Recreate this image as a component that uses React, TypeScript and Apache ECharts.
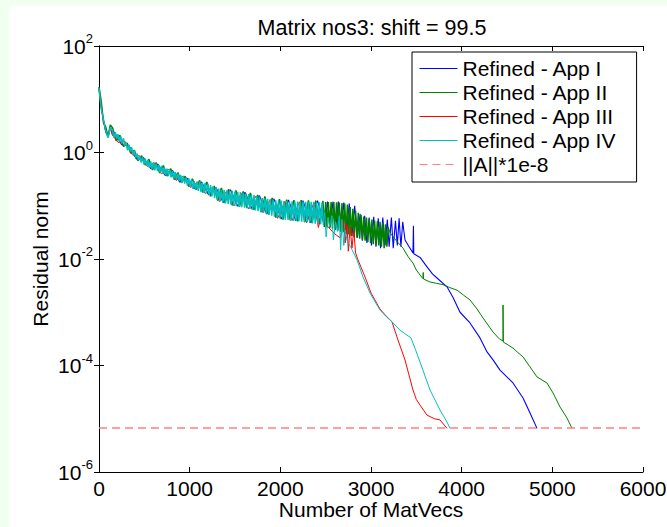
import { useEffect, useRef } from 'react';
import * as echarts from 'echarts';

const FONT = '"Liberation Sans", Arial, Helvetica, sans-serif';

// Opening iterations (steep initial drop)
const cyanStart: [number, number][] = [
  [0, 16], [25, 6.5], [50, 4.2], [75, 2.5], [100, 1.9], [125, 3.0],
];

// App IV residuals sampled every 15 MatVecs from 150 to 2475 (strongly oscillating phase)
const cyanDenseStart = 150;
const cyanDenseStep = 15;
const cyanDense = [
  2.5, 1.9, 2.4, 1.8, 2.2, 1.6, 2.0, 1.5, 1.85, 1.35,
  1.5, 1.1, 1.4, 1.05, 1.25, 0.9, 1.1, 0.8, 0.95, 0.72,
  0.86, 0.65, 0.82, 0.6, 0.77, 0.56, 0.72, 0.52, 0.68, 0.49,
  0.65, 0.46, 0.62, 0.45, 0.58, 0.42, 0.56, 0.4, 0.53, 0.37,
  0.5, 0.36, 0.48, 0.34, 0.45, 0.32, 0.43, 0.31, 0.4, 0.29,
  0.38, 0.27, 0.36, 0.26, 0.34, 0.24, 0.33, 0.225, 0.31, 0.21,
  0.29, 0.2, 0.285, 0.19, 0.28, 0.18, 0.275, 0.175, 0.27, 0.17,
  0.26, 0.16, 0.245, 0.15, 0.235, 0.14, 0.22, 0.13, 0.21, 0.12,
  0.2, 0.115, 0.198, 0.112, 0.195, 0.108, 0.193, 0.105, 0.19, 0.1,
  0.185, 0.098, 0.183, 0.096, 0.18, 0.094, 0.175, 0.092, 0.172, 0.09,
  0.165, 0.087, 0.162, 0.085, 0.158, 0.082, 0.152, 0.079, 0.148, 0.076,
  0.14, 0.074, 0.138, 0.071, 0.135, 0.068, 0.133, 0.065, 0.13, 0.062,
  0.127, 0.06, 0.126, 0.058, 0.125, 0.057, 0.123, 0.055, 0.122, 0.054,
  0.121, 0.053, 0.121, 0.052, 0.12, 0.052, 0.12, 0.051, 0.12, 0.05,
  0.12, 0.049, 0.119, 0.049, 0.119, 0.048, 0.118, 0.047, 0.118, 0.046,
  0.117, 0.046, 0.116, 0.045, 0.115, 0.044,
];

const cyanTail: [number, number][] = [
  [2490, 0.075], [2505, 0.026], [2525, 0.06], [2545, 0.04], [2570, 0.065], [2585, 0.023],
  [2610, 0.05], [2630, 0.033], [2650, 0.065], [2665, 0.0147], [2680, 0.055], [2700, 0.018],
  [2715, 0.035], [2735, 0.0227], [2790, 0.015], [2846, 0.0096], [2912, 0.0046], [2989, 0.0023],
  [3099, 1.1e-3], [3170, 8.2e-4], [3232, 6.6e-4], [3320, 4.6e-4], [3441, 3.3e-4], [3490, 2.0e-4],
  [3541, 1.16e-4], [3651, 3.47e-5], [3761, 1.46e-5], [3838, 8.7e-6], [3872, 6.6e-6],
];

// App II residuals: early phase on a 40-MatVec grid
const greenBandX = [
  0, 25, 50, 75, 100, 125, 150, 190, 230, 270, 310, 350, 390, 430, 470, 510, 550, 590, 630, 670,
  710, 750, 790, 830, 870, 910, 950, 990, 1030, 1070, 1110, 1150, 1190, 1230, 1270, 1310, 1350,
  1390, 1430, 1470, 1510, 1550, 1590, 1630, 1670, 1710, 1750, 1790, 1830, 1870, 1910, 1950, 1990,
  2030, 2070, 2110, 2150, 2190, 2230, 2270, 2310, 2350, 2390, 2430, 2470,
];
const greenBand = [
  17, 9, 3.6, 3.0, 1.95, 3.3, 2.9,
  1.65, 2.1, 1.3, 1.5, 0.97, 1.1, 0.7, 0.87, 0.58, 0.75, 0.47, 0.65, 0.41, 0.57, 0.36, 0.5,
  0.31, 0.42, 0.27, 0.36, 0.23, 0.32, 0.2, 0.3, 0.175, 0.28, 0.15, 0.235, 0.125, 0.215, 0.112,
  0.205, 0.102, 0.195, 0.096, 0.185, 0.09, 0.175, 0.084, 0.16, 0.076, 0.15, 0.068, 0.14, 0.06,
  0.133, 0.055, 0.13, 0.053, 0.128, 0.051, 0.127, 0.049, 0.126, 0.047, 0.125, 0.045, 0.123,
];

// App II residuals every 15 MatVecs from 2485 to 3190
const greenDenseStart = 2485;
const greenDenseStep = 15;
const greenDense = [
  0.04, 0.118, 0.039, 0.118, 0.038, 0.117, 0.037, 0.117, 0.036, 0.116,
  0.034, 0.115, 0.033, 0.113, 0.032, 0.11, 0.03, 0.105, 0.029, 0.095,
  0.027, 0.088, 0.026, 0.08, 0.025, 0.074, 0.024, 0.068, 0.023, 0.063,
  0.022, 0.06, 0.021, 0.057, 0.02, 0.055, 0.019, 0.053, 0.018, 0.051,
  0.018, 0.05, 0.017, 0.048, 0.016, 0.045, 0.017, 0.04,
];

const greenTail: [number, number][] = [
  [3210, 0.031], [3280, 0.022], [3353, 0.016], [3410, 0.011], [3463, 0.0084], [3500, 0.0062],
  [3541, 0.005], [3572, 0.0043], [3576, 0.0056], [3580, 0.0042], [3651, 0.0037], [3720, 0.0035],
  [3794, 0.0033], [3870, 0.0029], [3949, 0.0026], [4020, 0.0021], [4092, 0.0017], [4170, 1.15e-3],
  [4236, 7.8e-4], [4346, 4.25e-4], [4420, 3.1e-4], [4456, 2.9e-4], [4456, 1.37e-3], [4460, 2.75e-4],
  [4566, 2.13e-4], [4620, 1.75e-4], [4677, 1.45e-4], [4754, 9.4e-5], [4831, 6.1e-5],
  [4941, 4.7e-5], [5008, 3.05e-5], [5085, 1.66e-5], [5162, 1.03e-5], [5217, 6.6e-6],
];

const redPts: [number, number][] = [
  [0, 15], [25, 7], [50, 3.8], [75, 2.4], [100, 2.0], [125, 2.8], [150, 2.1],
  [210, 1.55], [290, 1.6], [370, 0.9], [450, 0.86], [530, 0.55], [610, 0.64], [690, 0.4],
  [770, 0.48], [850, 0.3], [930, 0.36], [1010, 0.22], [1090, 0.28], [1170, 0.17], [1250, 0.22],
  [1330, 0.12], [1410, 0.19], [1490, 0.1], [1570, 0.17], [1650, 0.088], [1730, 0.15],
  [1810, 0.074], [1890, 0.13], [1970, 0.058], [2050, 0.12], [2130, 0.053], [2210, 0.118],
  [2290, 0.048], [2370, 0.115], [2420, 0.039], [2450, 0.067], [2470, 0.05],
  [2500, 0.045], [2540, 0.038], [2580, 0.032], [2620, 0.028], [2660, 0.025], [2700, 0.05],
  [2715, 0.02], [2735, 0.045], [2750, 0.014], [2770, 0.04], [2790, 0.016], [2810, 0.035],
  [2830, 0.013], [2857, 0.0096], [2934, 0.0046], [3000, 0.0023], [3099, 1.15e-3],
  [3170, 8.4e-4], [3232, 6.6e-4], [3287, 3.4e-4], [3375, 1.27e-4], [3463, 3.47e-5],
  [3500, 2.3e-5], [3541, 1.8e-5], [3618, 1.17e-5], [3700, 1.0e-5], [3761, 9.5e-6], [3838, 6.6e-6],
];

const bluePts: [number, number][] = [
  [0, 16], [25, 7], [50, 4], [75, 2.4], [100, 2.0], [125, 3.1], [150, 2.1],
  [170, 2.4], [250, 1.4], [330, 1.35], [410, 0.76], [490, 0.8], [570, 0.5], [650, 0.6],
  [730, 0.37], [810, 0.46], [890, 0.28], [970, 0.33], [1050, 0.21], [1130, 0.28], [1210, 0.16],
  [1290, 0.22], [1370, 0.115], [1450, 0.2], [1530, 0.098], [1610, 0.18], [1690, 0.086],
  [1770, 0.155], [1850, 0.07], [1930, 0.135], [2010, 0.056], [2090, 0.128], [2170, 0.052],
  [2250, 0.125], [2330, 0.048], [2410, 0.125], [2490, 0.045],
  [2520, 0.12], [2550, 0.04], [2580, 0.118], [2610, 0.035], [2640, 0.12], [2670, 0.032],
  [2700, 0.115], [2730, 0.03], [2760, 0.11], [2790, 0.027], [2820, 0.1], [2850, 0.025],
  [2880, 0.07], [2905, 0.022], [2930, 0.065], [2955, 0.02], [2980, 0.06], [3005, 0.018],
  [3030, 0.062], [3055, 0.017], [3080, 0.058], [3105, 0.016], [3130, 0.06], [3155, 0.018],
  [3180, 0.055], [3200, 0.017], [3225, 0.06], [3245, 0.016], [3270, 0.052], [3290, 0.018],
  [3310, 0.058], [3330, 0.017], [3350, 0.05], [3375, 0.0227],
  [3420, 0.017], [3463, 0.013], [3468, 0.042], [3472, 0.0125], [3541, 0.0107], [3618, 0.0071],
  [3680, 0.0052], [3728, 0.0044], [3838, 0.003], [3905, 0.0019], [3982, 1.0e-3], [4092, 6.3e-4],
  [4202, 3.3e-4], [4280, 1.8e-4], [4350, 1.25e-4], [4423, 8.2e-5], [4566, 4.7e-5],
  [4677, 2.45e-5], [4754, 1.28e-5], [4831, 6.6e-6],
];

// ||A|| * 1e-8 stopping level
const tolerance = 6.7e-6;

const seriesNames = [
  'Refined - App I',
  'Refined - App II',
  'Refined - App III',
  'Refined - App IV',
  '||A||*1e-8',
];
const seriesColors = ['#0000ff', '#008000', '#ff0000', '#00bfbf', '#ff8080'];

const xMin = 0;
const xMax = 6000;
const xStep = 1000;
const yMin = 1e-6;
const yMax = 1e2;
const yTicks = [1e-6, 1e-4, 1e-2, 1, 1e2];

const titleText = 'Matrix nos3: shift = 99.5';
const xName = 'Number of MatVecs';
const yName = 'Residual norm';

// Pair a run of equally spaced MatVec counts with its residual values
const sampled = (start: number, step: number, values: number[]) =>
  values.map((v, i) => [start + i * step, v]);

export default function App() {
  const ref = useRef<HTMLDivElement>(null);

  useEffect(() => {
    if (!ref.current) return;
    const chart = echarts.init(ref.current, null, { renderer: 'svg' });

    // The oscillating stretch is drawn with a slightly heavier stroke so the
    // closely packed swings read as a continuous band.
    const cyanNoisy = [...cyanStart, ...sampled(cyanDenseStart, cyanDenseStep, cyanDense)];
    const cyanSmooth = [cyanNoisy[cyanNoisy.length - 1], ...cyanTail];

    const greenNoisy = [
      ...greenBandX.map((x, i) => [x, greenBand[i]]),
      ...sampled(greenDenseStart, greenDenseStep, greenDense),
    ];
    const greenSmooth = [greenNoisy[greenNoisy.length - 1], ...greenTail];

    const lineSeries = (
      name: string,
      color: string,
      data: number[][],
      width = 1,
      dashed = false,
    ) => ({
      name,
      type: 'line',
      data,
      xAxisIndex: 0,
      yAxisIndex: 0,
      symbol: 'none',
      showSymbol: false,
      silent: true,
      lineStyle: dashed ? { color, width, type: [8, 5] } : { color, width },
      itemStyle: { color },
      emphasis: { disabled: true },
    });

    const expLabel = (v: number) => {
      const e = Math.round(Math.log10(v));
      return `{b|10}{s|${e}}`;
    };

    const tickStyle = { inside: true, length: 5, lineStyle: { color: '#000', width: 1 } };
    const axisLine = { show: true, lineStyle: { color: '#000', width: 1 } };

    const option: any = {
      animation: false,
      backgroundColor: '#ffffff',
      textStyle: { fontFamily: FONT, color: '#000' },
      grid: {
        left: 99,
        top: 46,
        right: 24,
        bottom: 55,
        containLabel: false,
        outerBoundsMode: 'none',
      },
      legend: {
        orient: 'vertical',
        left: 412,
        top: 52,
        padding: [6, 20, 7, 7],
        itemWidth: 38,
        itemHeight: 14,
        itemGap: 3,
        backgroundColor: '#ffffff',
        borderColor: '#000000',
        borderWidth: 1,
        borderRadius: 0,
        selectedMode: false,
        itemStyle: { opacity: 0 },
        lineStyle: { width: 1 },
        textStyle: { fontSize: 21, color: '#000', fontFamily: FONT },
        data: seriesNames,
      },
      xAxis: [
        {
          type: 'value',
          position: 'bottom',
          min: xMin,
          max: xMax,
          interval: xStep,
          axisLine,
          axisTick: tickStyle,
          axisLabel: {
            color: '#000',
            fontSize: 21,
            margin: 6,
            fontFamily: FONT,
            formatter: (v: number) => String(v),
          },
          splitLine: { show: false },
          name: xName,
          nameLocation: 'middle',
          nameGap: 27,
          nameMoveOverlap: false,
          nameTextStyle: { fontSize: 21, color: '#000', fontFamily: FONT },
        },
        {
          type: 'value',
          position: 'top',
          min: xMin,
          max: xMax,
          interval: xStep,
          axisLine,
          axisTick: tickStyle,
          axisLabel: { show: false },
          splitLine: { show: false },
        },
      ],
      yAxis: [
        {
          type: 'log',
          logBase: 10,
          position: 'left',
          min: yMin,
          max: yMax,
          axisLine,
          axisTick: { ...tickStyle, customValues: yTicks },
          minorTick: { show: false },
          axisLabel: {
            customValues: yTicks,
            margin: 6,
            formatter: expLabel,
            rich: {
              b: { fontSize: 21, lineHeight: 32, color: '#000', fontFamily: FONT },
              s: {
                fontSize: 13,
                lineHeight: 13,
                verticalAlign: 'top',
                padding: [2, 0, 0, 0],
                color: '#000',
                fontFamily: FONT,
              },
            },
          },
          splitLine: { show: false },
          name: yName,
          nameLocation: 'middle',
          nameGap: 48,
          nameRotate: 90,
          nameMoveOverlap: false,
          nameTextStyle: { fontSize: 21, color: '#000', fontFamily: FONT },
        },
        {
          type: 'log',
          logBase: 10,
          position: 'right',
          min: yMin,
          max: yMax,
          axisLine,
          axisTick: { ...tickStyle, customValues: yTicks },
          minorTick: { show: false },
          axisLabel: { show: false },
          splitLine: { show: false },
        },
      ],
      graphic: [
        {
          type: 'rect',
          left: 0,
          top: 0,
          shape: { x: 0, y: 0, width: 667, height: 6 },
          style: { fill: '#f0fff0' },
          silent: true,
        },
        {
          type: 'rect',
          left: 0,
          top: 0,
          shape: { x: 0, y: 0, width: 9, height: 527 },
          style: { fill: '#f0fff0' },
          silent: true,
        },
        {
          type: 'text',
          x: 372,
          y: 28,
          style: {
            text: titleText,
            font: `21.5px ${FONT}`,
            fill: '#000',
            textAlign: 'center',
            textVerticalAlign: 'middle',
          },
          silent: true,
        },
      ],
      series: [
        lineSeries(seriesNames[0], seriesColors[0], bluePts, 1.1),
        lineSeries(seriesNames[1], seriesColors[1], greenNoisy, 1.5),
        lineSeries(seriesNames[1], seriesColors[1], greenSmooth),
        lineSeries(seriesNames[2], seriesColors[2], redPts),
        lineSeries(seriesNames[3], seriesColors[3], cyanNoisy, 1.5),
        lineSeries(seriesNames[3], seriesColors[3], cyanSmooth),
        lineSeries(
          seriesNames[4],
          seriesColors[4],
          [
            [xMin, tolerance],
            [xMax, tolerance],
          ],
          1.5,
          true,
        ),
      ],
    };

    chart.setOption(option);
    return () => chart.dispose();
  }, []);

  return (
    <div
      ref={ref}
      style={{ position: 'fixed', left: 0, top: 0, width: 667, height: 527, background: '#fff' }}
    />
  );
}
